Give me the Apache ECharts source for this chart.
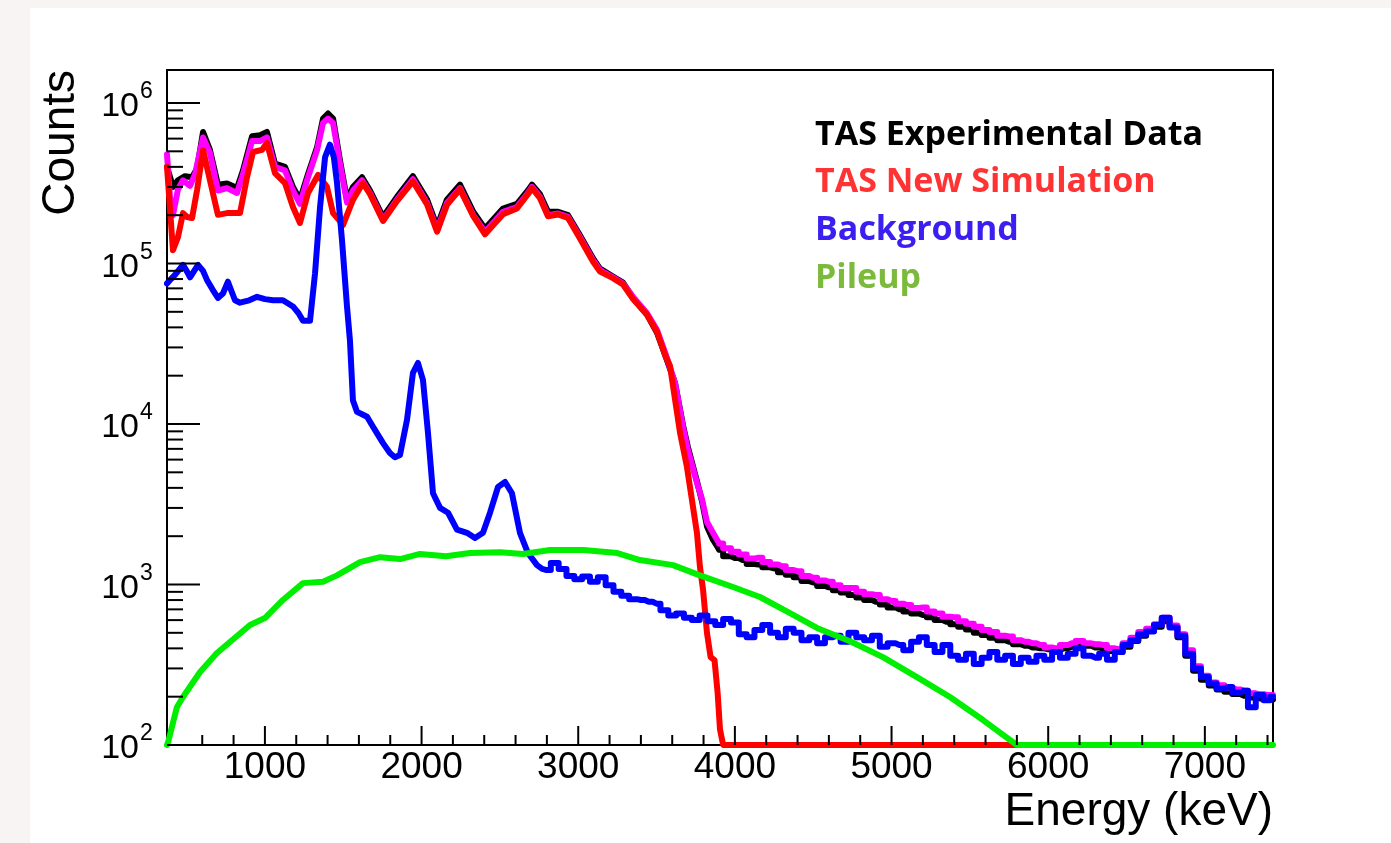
<!DOCTYPE html>
<html><head><meta charset="utf-8">
<script src="https://cdn.jsdelivr.net/npm/echarts@6/dist/echarts.min.js"></script>
<style>
html,body{margin:0;padding:0;width:1391px;height:843px;background:#f7f4f3;overflow:hidden}
#panel{position:absolute;left:30px;top:8px;right:0;bottom:0;background:#fff}
#chart{position:absolute;left:0;top:0;width:1391px;height:843px}
</style></head><body><div id="panel"></div><div id="chart"></div>
<script>
// ---------- data (Energy in keV, Counts) ----------
// TAS experimental data: low-energy part and binned (50 keV) tail
const expE = [375,413,445,490,535,567,605,649,700,758,822,860,918,969,1013,1064,1128,1179,1224,1275,1333,1371,1403,1435,1479,1524,1562,1620,1671,1754,1843,1945,2035,2099,2162,2245,2330,2405,2520,2609,2679,2705,2756,2807,2871,2935,3011,3094,3139,3222,3286,3350,3439,3503,3554,3618,3669,3700,3758,3790,3822,3860,3900];
const expCounts = [4.0e5,3.0e5,3.3e5,3.5e5,3.45e5,3.9e5,6.6e5,5.1e5,3.1e5,3.15e5,2.95e5,3.8e5,6.2e5,6.3e5,6.6e5,4.2e5,4.0e5,3.0e5,2.5e5,3.6e5,5.3e5,8.0e5,8.6e5,8.0e5,4.4e5,2.5e5,3.0e5,3.45e5,2.85e5,1.95e5,2.6e5,3.5e5,2.5e5,1.7e5,2.5e5,3.1e5,2.1e5,1.65e5,2.2e5,2.35e5,2.85e5,3.1e5,2.7e5,2.1e5,2.1e5,2.0e5,1.5e5,1.08e5,9.3e4,8.3e4,7.6e4,6.1e4,4.8e4,3.7e4,2.7e4,1.8e4,9.8e3,7.2e3,4.4e3,3.3e3,2.3e3,1.9e3,1.65e3];
const expTailE = [3900,3950,4000,4050,4100,4150,4200,4250,4300,4350,4400,4450,4500,4550,4600,4650,4700,4750,4800,4850,4900,4950,5000,5050,5100,5150,5200,5250,5300,5350,5400,5450,5500,5550,5600,5650,5700,5750,5800,5850,5900,5950,6000,6050,6100,6150,6200,6250,6300,6350,6400,6450,6500,6550,6600,6650,6700,6750,6800,6850,6900,6950,7000,7050,7100,7150,7200,7250,7300,7350,7400,7435];
const expTailCounts = [1650,1500,1460,1420,1340,1330,1280,1260,1190,1150,1110,1050,1030,980,960,920,890,860,830,800,780,750,720,700,680,660,645,625,600,585,565,545,525,500,485,465,450,440,425,415,405,400,395,390,400,410,420,415,405,400,385,380,410,445,480,515,545,590,545,470,360,290,255,235,222,215,208,203,198,195,192,192];

// Total (simulation + background + pileup), magenta
const totalE = [375,394,413,445,477,522,554,605,649,700,758,822,860,918,969,1013,1064,1128,1179,1224,1275,1333,1371,1403,1435,1479,1524,1562,1620,1671,1754,1843,1945,2035,2099,2162,2245,2330,2405,2520,2609,2679,2705,2756,2807,2871,2935,3011,3094,3139,3222,3286,3350,3439,3503,3554,3618,3669,3700,3758,3790,3822,3860,3900];
const totalCounts = [4.8e5,2.6e5,2.0e5,2.9e5,3.3e5,3.05e5,3.6e5,6.1e5,4.9e5,2.85e5,2.95e5,2.75e5,3.6e5,5.8e5,5.8e5,6.1e5,4.0e5,3.8e5,2.85e5,2.35e5,3.45e5,5.1e5,7.5e5,8.0e5,7.5e5,4.2e5,2.4e5,2.85e5,3.3e5,2.75e5,1.87e5,2.5e5,3.35e5,2.38e5,1.62e5,2.38e5,2.95e5,2.0e5,1.57e5,2.1e5,2.25e5,2.75e5,3.0e5,2.6e5,2.0e5,2.05e5,1.95e5,1.46e5,1.05e5,9.1e4,8.2e4,7.5e4,6.2e4,4.9e4,3.85e4,2.8e4,1.8e4,9.6e3,6.9e3,4.3e3,3.4e3,2.45e3,2.1e3,1.8e3];
const totalTailE = [3900,3950,4000,4050,4100,4150,4200,4250,4300,4350,4400,4450,4500,4550,4600,4650,4700,4750,4800,4850,4900,4950,5000,5050,5100,5150,5200,5250,5300,5350,5400,5450,5500,5550,5600,5650,5700,5750,5800,5850,5900,5950,6000,6050,6100,6150,6200,6250,6300,6350,6400,6450,6500,6550,6600,6650,6700,6750,6800,6850,6900,6950,7000,7050,7100,7150,7200,7250,7300,7350,7400,7435];
const totalTailCounts = [1800,1680,1600,1540,1450,1470,1380,1330,1300,1230,1210,1130,1100,1060,1040,990,950,950,900,870,860,810,790,760,745,715,720,680,660,630,625,590,570,545,520,505,480,475,450,440,430,420,405,400,420,430,445,430,425,420,400,395,430,465,505,530,565,620,555,490,390,310,270,245,236,228,222,218,210,207,205,205];

// TAS new simulation, red
const simE = [375,413,445,477,503,535,567,605,649,700,758,841,886,924,981,1013,1064,1128,1179,1224,1275,1339,1396,1435,1499,1562,1626,1671,1754,1843,1945,2035,2099,2162,2245,2330,2405,2520,2609,2679,2705,2756,2807,2871,2935,3011,3094,3139,3222,3286,3350,3439,3503,3554,3586,3650,3694,3726,3758,3777,3797,3822,3845,3870,3890,3905,3925,5810];
const simCounts = [4.0e5,1.21e5,1.46e5,2.06e5,1.95e5,1.92e5,2.87e5,5.1e5,3.31e5,2.01e5,2.06e5,2.06e5,3.46e5,4.95e5,5.1e5,5.63e5,3.66e5,3.17e5,2.25e5,1.79e5,2.75e5,3.56e5,3.0e5,2.06e5,1.74e5,2.49e5,3.17e5,2.7e5,1.84e5,2.45e5,3.25e5,2.33e5,1.58e5,2.32e5,2.9e5,1.97e5,1.52e5,2.03e5,2.2e5,2.7e5,2.95e5,2.55e5,1.97e5,2.02e5,1.92e5,1.43e5,1.03e5,8.9e4,8.1e4,7.4e4,6.0e4,4.8e4,3.75e4,2.7e4,2.3e4,8.8e3,5.4e3,3.36e3,2.09e3,1.29e3,924,499,353,338,211,125,100,100];

// Background, blue: low-energy part and binned (50 keV) tail
const bgE = [375,400,426,477,503,522,573,605,630,665,700,732,764,790,809,841,900,950,1000,1052,1115,1179,1215,1243,1288,1320,1352,1384,1415,1440,1460,1492,1524,1543,1562,1588,1620,1652,1690,1754,1798,1830,1862,1907,1945,1977,2009,2041,2073,2118,2169,2226,2290,2341,2392,2437,2488,2533,2577,2628,2679,2737,2770,2800];
const bgCounts = [7.5e4,8.0e4,8.5e4,9.8e4,8.9e4,8.2e4,9.8e4,9.0e4,7.9e4,6.9e4,6.1e4,6.5e4,7.7e4,6.6e4,5.9e4,5.7e4,5.9e4,6.2e4,6.0e4,5.9e4,5.9e4,5.4e4,4.9e4,4.4e4,4.4e4,8.7e4,2.25e5,4.6e5,5.5e5,4.6e5,3.2e5,1.4e5,5.4e4,3.3e4,1.4e4,1.19e4,1.15e4,1.11e4,9.6e3,7.6e3,6.6e3,6.2e3,6.4e3,1.06e4,2.08e4,2.4e4,1.88e4,8.8e3,3.7e3,3.0e3,2.8e3,2.2e3,2.1e3,1.95e3,2.1e3,2.8e3,4.05e3,4.35e3,3.7e3,2.1e3,1.57e3,1.32e3,1.25e3,1.23e3];
const bgTailE = [2800,2850,2900,2950,3000,3050,3100,3150,3200,3250,3300,3350,3400,3450,3500,3550,3600,3650,3700,3750,3800,3850,3900,3950,4000,4050,4100,4150,4200,4250,4300,4350,4400,4450,4500,4550,4600,4650,4700,4750,4800,4850,4900,4950,5000,5050,5100,5150,5200,5250,5300,5350,5400,5450,5500,5550,5600,5650,5700,5750,5800,5850,5900,5950,6000,6050,6100,6150,6200,6250,6300,6350,6400,6450,6500,6550,6600,6650,6700,6750,6800,6850,6900,6950,7000,7050,7100,7150,7200,7250,7300,7350,7400,7435];
const bgTailCounts = [1230,1360,1250,1130,1080,1120,1040,1110,990,900,850,810,800,780,760,690,640,660,620,600,640,590,560,610,580,490,470,520,560,500,470,530,500,450,470,430,470,480,440,500,470,450,480,410,430,420,390,440,470,420,380,420,360,340,370,320,350,380,340,360,320,350,330,360,340,380,350,370,400,360,350,370,340,380,420,450,490,510,560,620,540,480,370,300,265,242,225,230,212,218,172,205,190,200];

// Pileup, green
const pileE = [375,383,438,477,586,694,905,1000,1115,1243,1371,1460,1607,1735,1863,1990,2156,2309,2501,2647,2820,3033,3250,3394,3605,3777,3988,4160,4352,4524,4735,4945,5162,5373,5584,5690,5800,7435];
const pileCounts = [100,105,172,199,285,374,560,618,801,1020,1040,1140,1380,1480,1440,1550,1500,1570,1590,1550,1640,1640,1570,1420,1320,1140,965,836,664,536,443,353,265,199,143,120,100,100];

// ---------- axis ticks & labels ----------
const xMajorTicks = [1000,2000,3000,4000,5000,6000,7000];
const xTickLabels = ['1000','2000','3000','4000','5000','6000','7000'];
const xMinorTicks = [600,800,1200,1400,1600,1800,2200,2400,2600,2800,3200,3400,3600,3800,4200,4400,4600,4800,5200,5400,5600,5800,6200,6400,6600,6800,7200,7400];
const yMajorTicks = [1e2,1e3,1e4,1e5,1e6];
const yTickExponents = ['2','3','4','5','6'];
const yMinorMantissas = [2,3,4,5,6,7,8,9];
const yMinorDecades = [1e2,1e3,1e4,1e5];

const X_MIN = 375, X_MAX = 7435, Y_MIN = 100, Y_MAX = 1.6055e6;

function pairs(xs, ys){ return xs.map((x,i)=>[x, ys[i]]); }

const FONT = '"Liberation Sans", Arial, Helvetica, sans-serif';

function lineSeries(name, color, xs, ys, width, step){
  return {
    type:'line', name, data: pairs(xs, ys), showSymbol:false, symbol:'none',
    smooth:false, clip:false, silent:true, step: step || false,
    lineStyle:{color, width, join:'round', cap:'round'},
    itemStyle:{color}
  };
}

const chart = echarts.init(document.getElementById('chart'), null, {renderer:'canvas'});
chart.setOption({
  animation:false,
  grid:{left:167, top:70, width:1106, height:675, show:true, borderColor:'#000', borderWidth:2, backgroundColor:'transparent'},
  xAxis:{type:'value', min:X_MIN, max:X_MAX, axisLine:{show:false}, axisTick:{show:false}, axisLabel:{show:false}, splitLine:{show:false}},
  yAxis:{type:'log', logBase:10, min:Y_MIN, max:Y_MAX, axisLine:{show:false}, axisTick:{show:false}, axisLabel:{show:false}, splitLine:{show:false}},
  legend:{
    orient:'vertical', left:810, top:115, padding:0, itemGap:7.7, itemWidth:0, itemHeight:0, icon:'none',
    selectedMode:false,
    textStyle:{fontFamily:'"Open Sans", sans-serif', fontWeight:'bold', fontSize:34, lineHeight:40},
    data:[
      {name:'TAS Experimental Data', textStyle:{color:'#000000'}},
      {name:'TAS New Simulation', textStyle:{color:'#ff3333'}},
      {name:'Background', textStyle:{color:'#3a1ff0'}},
      {name:'Pileup', textStyle:{color:'#7cba3c'}}
    ]
  },
  graphic:[
    {type:'text', x:61, y:70, rotation:Math.PI/2,
     style:{text:'Counts', align:'right', verticalAlign:'middle', fontSize:46, fontFamily:FONT, fill:'#000'}},
    {type:'text', x:1273, y:812,
     style:{text:'Energy (keV)', align:'right', verticalAlign:'middle', fontSize:46, fontFamily:FONT, fill:'#000'}}
  ],
  series:[
    lineSeries('TAS Experimental Data', '#000000', expE, expCounts, 6),
    lineSeries('TAS Experimental Data', '#000000', expTailE, expTailCounts, 6, 'middle'),
    lineSeries('Total', '#ff00ff', totalE, totalCounts, 6),
    lineSeries('Total', '#ff00ff', totalTailE, totalTailCounts, 6, 'middle'),
    lineSeries('TAS New Simulation', '#ff0000', simE, simCounts, 6),
    lineSeries('Background', '#0000ff', bgE, bgCounts, 6),
    lineSeries('Background', '#0000ff', bgTailE, bgTailCounts, 6, 'middle'),
    lineSeries('Pileup', '#00ee00', pileE, pileCounts, 6),
    {
      type:'custom', name:'axes', coordinateSystem:'cartesian2d', silent:true, clip:false, z:10,
      data:[[X_MIN, Y_MIN]],
      renderItem:function(params, api){
        const ch = [];
        const st = {stroke:'#000', lineWidth:2};
        xMajorTicks.forEach(function(v,i){
          const p = api.coord([v, Y_MIN]);
          ch.push({type:'line', shape:{x1:p[0], y1:p[1], x2:p[0], y2:p[1]-19}, style:st});
          ch.push({type:'text', style:{text:xTickLabels[i], x:p[0], y:p[1]+23, align:'center', verticalAlign:'middle', fontSize:37, fontFamily:FONT, fill:'#000'}});
        });
        xMinorTicks.forEach(function(v){
          const p = api.coord([v, Y_MIN]);
          ch.push({type:'line', shape:{x1:p[0], y1:p[1], x2:p[0], y2:p[1]-10}, style:st});
        });
        yMajorTicks.forEach(function(v,i){
          const p = api.coord([X_MIN, v]);
          ch.push({type:'line', shape:{x1:p[0], y1:p[1], x2:p[0]+33, y2:p[1]}, style:st});
          ch.push({type:'text', style:{text:'10', x:p[0]-28, y:p[1]+4, align:'right', verticalAlign:'middle', fontSize:34, fontFamily:FONT, fill:'#000'}});
          ch.push({type:'text', style:{text:yTickExponents[i], x:p[0]-27, y:p[1]-11, align:'left', verticalAlign:'middle', fontSize:23, fontFamily:FONT, fill:'#000'}});
        });
        yMinorDecades.forEach(function(d){
          yMinorMantissas.forEach(function(m){
            const p = api.coord([X_MIN, m*d]);
            ch.push({type:'line', shape:{x1:p[0], y1:p[1], x2:p[0]+16, y2:p[1]}, style:st});
          });
        });
        return {type:'group', children:ch};
      }
    }
  ]
});
</script>
</body></html>
